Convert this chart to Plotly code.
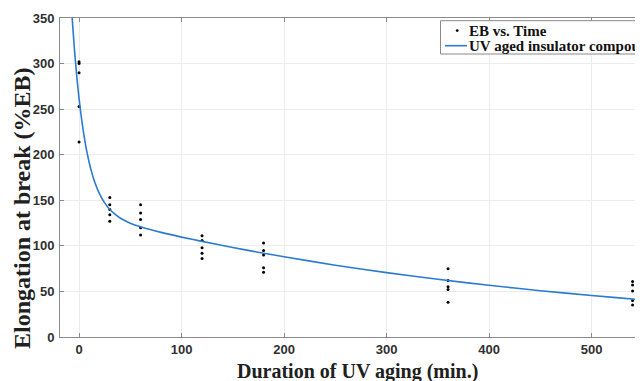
import plotly.graph_objects as go

# Measured data: Elongation at break (%EB) vs duration of UV aging (min.)
time_min = [0, 0, 0, 0, 0,
            30, 30, 30, 30, 30,
            60, 60, 60, 60, 60,
            120, 120, 120, 120, 120,
            180, 180, 180, 180, 180,
            360, 360, 360, 360, 360,
            540, 540, 540, 540, 540]
eb_pct = [302, 300, 290, 253, 214,
          153, 145, 140, 134, 127,
          145, 136, 129, 120, 112,
          111, 106, 98, 92, 86,
          103, 95, 90, 76, 71,
          75, 62, 55, 52, 38,
          61, 57, 50.5, 40, 35]

# Fitted curve
fit_x = [-7, -5, -4, -3, -2, -1, 0, 1, 2, 4, 6, 8, 10, 12, 15, 20, 25, 30, 35, 40,
         50, 60, 80, 100, 120, 150, 180, 200, 250, 300, 350, 400, 450, 500, 550, 560]
fit_y = [354.5, 322.7, 308.6, 295.5, 283.3, 272, 261.6, 251.9, 243, 226.9, 213.1,
         201.2, 190.9, 182, 171, 157, 147.1, 139.9, 134.7, 130.6,
         124.9, 120.9, 114.8, 109.6, 104.9, 98.2, 91.9, 88, 78.8, 70.6,
         63.3, 56.7, 50.8, 45.5, 40.7, 39.8]

x_ticks = [0, 100, 200, 300, 400, 500]
y_ticks = [0, 50, 100, 150, 200, 250, 300, 350]
series_names = ["EB vs. Time", "UV aged insulator compound"]

# The page body has an 8px default margin; the figure is laid out to compensate.
OFF = 8
W, H = 643 - OFF, 381 - OFF
PL, PT, PB = 60, 18, 337          # plot-area edges in window pixels
ML, MT, MB = PL - OFF, PT - OFF, (OFF + H) - PB
PW, PH = 643 - PL, PB - PT


def px(xpix):
    return (xpix - PL) / PW


def py(ypix):
    return (PB - ypix) / PH


LINE_COLOR = "#2b7bd0"

fig = go.Figure()
fig.add_trace(go.Scatter(
    x=time_min, y=eb_pct, mode="markers", name=series_names[0],
    marker=dict(color="black", size=3),
))
fig.add_trace(go.Scatter(
    x=fit_x, y=fit_y, mode="lines", name=series_names[1],
    line=dict(color=LINE_COLOR, width=1.6, shape="spline", smoothing=0.6),
))

tick_font = dict(family="Liberation Sans", size=13, color="#303030", weight="bold")
axis_common = dict(
    showline=True, linecolor="#8a8a8a", linewidth=1, mirror="ticks",
    ticks="inside", ticklen=4, tickcolor="#8a8a8a",
    showgrid=True, gridcolor="#ececec", gridwidth=1,
    zeroline=False, tickfont=tick_font,
)

fig.update_xaxes(range=[-18.6, 550.2], tickvals=x_ticks, **axis_common)
fig.update_yaxes(range=[0, 350], tickvals=y_ticks, ticklabelstandoff=2, **axis_common)

title_font = dict(family="Liberation Serif", color="#202020", weight="bold")
fig.add_annotation(
    text="Duration of UV aging (min.)", xref="paper", yref="paper",
    x=px(357), y=py(371.5), showarrow=False,
    font=dict(size=20, **title_font), xanchor="center", yanchor="middle",
)
fig.add_annotation(
    text="Elongation at break (%EB)", xref="paper", yref="paper",
    x=px(22), y=py(208), showarrow=False, textangle=-90,
    font=dict(size=24, **title_font), xanchor="center", yanchor="middle",
)

# Legend box (MATLAB style, running off the right edge like the reference)
fig.add_shape(type="rect", xref="paper", yref="paper",
              x0=px(440.5), x1=px(700), y0=py(54), y1=py(20.7),
              fillcolor="white", line=dict(color="#8a8a8a", width=1), layer="above")
fig.add_shape(type="circle", xref="paper", yref="paper",
              x0=px(455.8), x1=px(458.6), y0=py(32), y1=py(29.2),
              fillcolor="black", line=dict(color="black", width=0), layer="above")
fig.add_shape(type="line", xref="paper", yref="paper",
              x0=px(445), x1=px(467), y0=py(45.7), y1=py(45.7),
              line=dict(color=LINE_COLOR, width=1.6), layer="above")
legend_font = dict(family="Liberation Serif", size=15, color="#111111", weight="bold")
for name, ytxt in zip(series_names, [30.7, 45.7]):
    fig.add_annotation(text=name, xref="paper", yref="paper", x=px(467), y=py(ytxt),
                       showarrow=False, xanchor="left", yanchor="middle", font=legend_font)

fig.update_layout(
    width=W, height=H,
    margin=dict(l=ML, r=0, t=MT, b=MB, pad=0, autoexpand=False),
    paper_bgcolor="white", plot_bgcolor="white",
    showlegend=False,
)

fig.write_html("out.html")
